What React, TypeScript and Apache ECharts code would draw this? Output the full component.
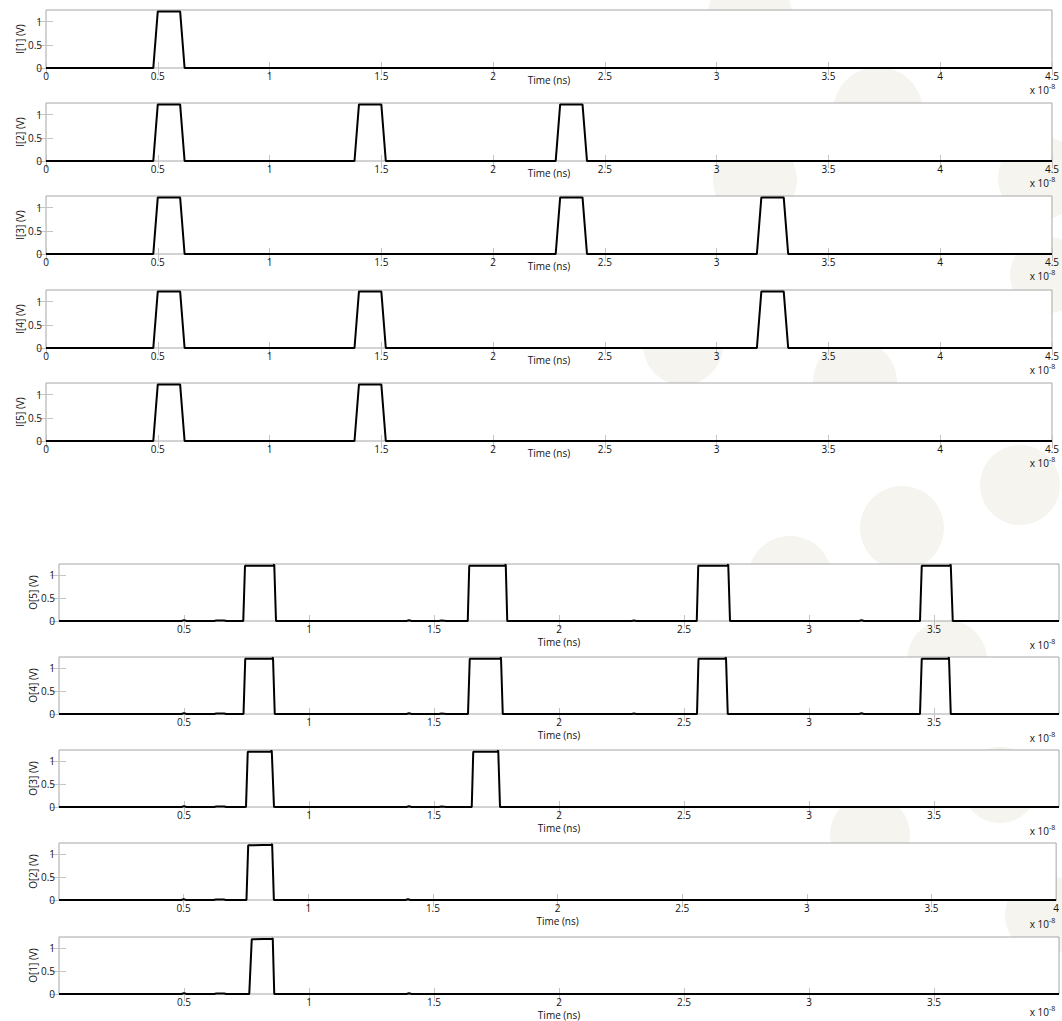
import React, { useEffect, useRef } from 'react';
import * as echarts from 'echarts';

// ---- labels & ticks ----
const inputNames = ['I[1] (V)', 'I[2] (V)', 'I[3] (V)', 'I[4] (V)', 'I[5] (V)'];
const outputNames = ['O[5] (V)', 'O[4] (V)', 'O[3] (V)', 'O[2] (V)', 'O[1] (V)'];
const inputXTicks = [0, 0.5, 1, 1.5, 2, 2.5, 3, 3.5, 4, 4.5];
const outputXTicks = [0.5, 1, 1.5, 2, 2.5, 3, 3.5];
const outputXTicksO2 = [0.5, 1, 1.5, 2, 2.5, 3, 3.5, 4];
const yTicks = [0, 0.5, 1];

// ---- input waveforms [time (x1e-8 s), volts] ----
const I1 = [[0, 0], [0.48, 0], [0.5, 1.22], [0.6, 1.22], [0.62, 0], [4.5, 0]];
const I2 = [[0, 0], [0.48, 0], [0.5, 1.22], [0.6, 1.22], [0.62, 0], [1.38, 0], [1.4, 1.22], [1.5, 1.22], [1.52, 0], [2.28, 0], [2.3, 1.22], [2.4, 1.22], [2.42, 0], [4.5, 0]];
const I3 = [[0, 0], [0.48, 0], [0.5, 1.22], [0.6, 1.22], [0.62, 0], [2.28, 0], [2.3, 1.22], [2.4, 1.22], [2.42, 0], [3.18, 0], [3.2, 1.22], [3.3, 1.22], [3.32, 0], [4.5, 0]];
const I4 = [[0, 0], [0.48, 0], [0.5, 1.22], [0.6, 1.22], [0.62, 0], [1.38, 0], [1.4, 1.22], [1.5, 1.22], [1.52, 0], [3.18, 0], [3.2, 1.22], [3.3, 1.22], [3.32, 0], [4.5, 0]];
const I5 = [[0, 0], [0.48, 0], [0.5, 1.22], [0.6, 1.22], [0.62, 0], [1.38, 0], [1.4, 1.22], [1.5, 1.22], [1.52, 0], [4.5, 0]];

// ---- output waveforms ----
const O5 = [[0, 0], [0.49, 0], [0.5, 0.02], [0.51, 0], [0.62, 0], [0.63, 0.012], [0.66, 0.012], [0.67, 0], [0.737, 0], [0.744, 1.2], [0.858, 1.21], [0.861, 1.23], [0.868, 0], [1.39, 0], [1.4, 0.015], [1.41, 0], [1.52, 0], [1.53, 0.012], [1.55, 0], [1.635, 0], [1.641, 1.2], [1.784, 1.21], [1.787, 1.23], [1.793, 0], [2.29, 0], [2.3, 0.012], [2.31, 0], [2.551, 0], [2.557, 1.2], [2.674, 1.21], [2.677, 1.23], [2.684, 0], [3.2, 0], [3.21, 0.015], [3.22, 0], [3.444, 0], [3.451, 1.2], [3.564, 1.21], [3.567, 1.23], [3.575, 0], [4, 0]];
const O4 = [[0, 0], [0.49, 0], [0.5, 0.02], [0.51, 0], [0.62, 0], [0.63, 0.012], [0.66, 0.012], [0.67, 0], [0.738, 0], [0.745, 1.2], [0.853, 1.21], [0.856, 1.23], [0.863, 0], [1.39, 0], [1.4, 0.015], [1.41, 0], [1.52, 0], [1.53, 0.012], [1.55, 0], [1.636, 0], [1.643, 1.2], [1.765, 1.21], [1.768, 1.23], [1.775, 0], [2.29, 0], [2.3, 0.012], [2.31, 0], [2.552, 0], [2.558, 1.2], [2.665, 1.21], [2.668, 1.23], [2.675, 0], [3.2, 0], [3.21, 0.015], [3.22, 0], [3.444, 0], [3.451, 1.2], [3.557, 1.21], [3.56, 1.23], [3.567, 0], [4, 0]];
const O3 = [[0, 0], [0.49, 0], [0.5, 0.02], [0.51, 0], [0.62, 0], [0.63, 0.012], [0.66, 0.012], [0.67, 0], [0.748, 0], [0.755, 1.2], [0.848, 1.21], [0.851, 1.23], [0.86, 0], [1.39, 0], [1.4, 0.015], [1.41, 0], [1.52, 0], [1.53, 0.012], [1.55, 0], [1.651, 0], [1.657, 1.2], [1.754, 1.21], [1.757, 1.23], [1.764, 0], [4, 0]];
const O2 = [[0, 0], [0.49, 0], [0.5, 0.02], [0.51, 0], [0.62, 0], [0.63, 0.012], [0.66, 0.012], [0.67, 0], [0.752, 0], [0.759, 1.19], [0.852, 1.2], [0.855, 1.22], [0.862, 0], [1.39, 0], [1.4, 0.015], [1.41, 0], [4, 0]];
const O1 = [[0, 0], [0.49, 0], [0.5, 0.02], [0.51, 0], [0.62, 0], [0.63, 0.012], [0.66, 0.012], [0.67, 0], [0.761, 0], [0.771, 1.19], [0.852, 1.2], [0.855, 1.21], [0.861, 0], [1.39, 0], [1.4, 0.015], [1.41, 0], [4, 0]];

const inputSeries = [I1, I2, I3, I4, I5];
const outputSeries = [O5, O4, O3, O2, O1];

// ---- decorative background circles [cx, cy, r] ----
const bgCircles = [
  [750, 15, 42], [878, 112, 45], [755, 180, 42], [1040, 178, 42], [1048, 275, 38],
  [683, 345, 40], [855, 382, 42], [1020, 485, 40], [902, 528, 42], [790, 578, 42],
  [947, 660, 40], [870, 835, 40], [1000, 785, 38], [1045, 915, 40],
];

const FONT = 'Open Sans';
const TICK_COLOR = '#c4c4c4';
const FRAME_COLOR = '#a6a6a6';

function buildOption() {
  const grid: any[] = [];
  const xAxis: any[] = [];
  const yAxis: any[] = [];
  const series: any[] = [];
  const graphic: any[] = [];

  bgCircles.forEach(([cx, cy, r]) => {
    graphic.push({ type: 'circle', z: -10, silent: true, shape: { cx, cy, r }, style: { fill: '#f5f4ef' } });
  });

  const panels: any[] = [];
  const inTops = [10, 103, 196, 290, 383];
  const outTops = [564, 657, 750, 843, 937];
  inTops.forEach((top, i) => panels.push({ top, left: 46, width: 1013, height: 58, xmax: 4.5, ymax: 1.25, name: inputNames[i], data: inputSeries[i], ticks: inputXTicks, labels: inputXTicks, gap: 7, nameGapY: 21, expOff: 22 }));
  outTops.forEach((top, i) => panels.push({ top, left: 59, width: 1000, height: 57, xmax: 4, ymax: 1.24, name: outputNames[i], data: outputSeries[i], ticks: outputXTicks, labels: i === 3 ? outputXTicksO2 : outputXTicks, gap: 16, nameGapY: 21, expOff: i === 4 ? 18 : 24 }));

  panels.forEach((p, i) => {
    grid.push({ left: p.left, top: p.top, width: p.width, height: p.height, show: true, backgroundColor: '#ffffff', borderColor: FRAME_COLOR, borderWidth: 1, z: 0 });
    const common = { min: 0, max: p.xmax, gridIndex: i, type: 'value', splitLine: { show: false }, axisLine: { show: false } };
    xAxis.push({
      ...common, position: 'bottom',
      name: 'Time (ns)', nameLocation: 'middle', nameGap: p.gap, nameMoveOverlap: false,
      nameTextStyle: { fontFamily: FONT, fontSize: 10, color: '#111' },
      axisTick: { show: true, inside: true, length: 6, lineStyle: { color: TICK_COLOR }, customValues: p.ticks },
      axisLabel: { show: true, margin: 3, fontFamily: FONT, fontSize: 10, color: '#111', customValues: p.labels, formatter: (v: number) => String(v) },
    });
    xAxis.push({
      ...common, position: 'top',
      axisTick: { show: true, inside: true, length: 7, lineStyle: { color: TICK_COLOR }, customValues: p.ticks },
      axisLabel: { show: false },
    });
    const ycommon = { min: 0, max: p.ymax, gridIndex: i, type: 'value', splitLine: { show: false }, axisLine: { show: false } };
    yAxis.push({
      ...ycommon, position: 'left',
      name: p.name, nameLocation: 'middle', nameGap: p.nameGapY, nameRotate: 90, nameMoveOverlap: false,
      nameTextStyle: { fontFamily: FONT, fontSize: 10, color: '#111' },
      axisTick: { show: true, inside: true, length: 7, lineStyle: { color: TICK_COLOR }, customValues: yTicks },
      axisLabel: { show: true, margin: 4, fontFamily: FONT, fontSize: 10, color: '#111', customValues: yTicks, formatter: (v: number) => String(v) },
    });
    yAxis.push({
      ...ycommon, position: 'right',
      axisTick: { show: true, inside: true, length: 9, lineStyle: { color: TICK_COLOR }, customValues: yTicks },
      axisLabel: { show: false },
    });
    series.push({
      type: 'line', xAxisIndex: 2 * i, yAxisIndex: 2 * i, data: p.data,
      showSymbol: false, symbol: 'none', clip: false,
      lineStyle: { color: '#000', width: 2 }, z: 5,
    });
    const by = p.top + p.height + p.expOff;
    graphic.push({ type: 'text', z: 10, x: 1049, y: by, style: { text: 'x 10', fontFamily: FONT, fontSize: 10, fill: '#111', align: 'right', verticalAlign: 'middle' } });
    graphic.push({ type: 'text', z: 10, x: 1049, y: by - 4, style: { text: '-8', fontFamily: FONT, fontSize: 7, fill: '#111', align: 'left', verticalAlign: 'middle' } });
  });

  return { animation: false, backgroundColor: '#ffffff', grid, xAxis, yAxis, series, graphic };
}

export default function App() {
  const ref = useRef<HTMLDivElement>(null);
  useEffect(() => {
    if (!ref.current) return;
    const chart = echarts.init(ref.current, undefined, { renderer: 'svg' });
    chart.setOption(buildOption() as any);
    return () => chart.dispose();
  }, []);
  return <div ref={ref} style={{ position: 'fixed', left: 0, top: 0, width: 1062, height: 1021 }} />;
}
